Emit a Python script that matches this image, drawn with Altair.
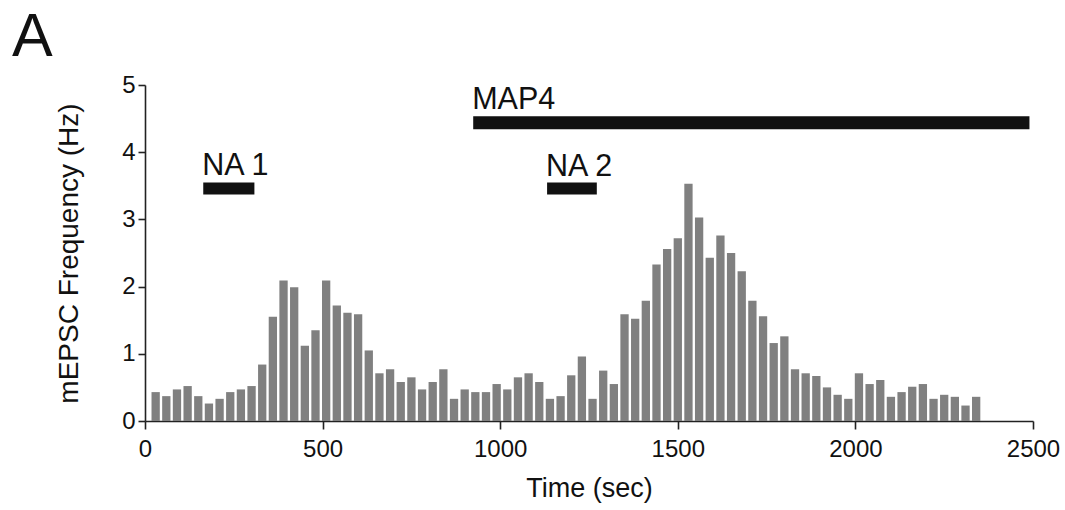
import altair as alt
import pandas as pd

# --- data ---
bin_times = [30 * k for k in range(1, 79)]  # bin centres (sec)
frequency = [
    0.43, 0.37, 0.47, 0.52, 0.37, 0.26, 0.33, 0.43, 0.47, 0.52,
    0.84, 1.55, 2.09, 1.99, 1.12, 1.35, 2.09, 1.72, 1.61, 1.59,
    1.05, 0.71, 0.77, 0.58, 0.65, 0.47, 0.58, 0.77, 0.33, 0.47,
    0.43, 0.43, 0.55, 0.47, 0.65, 0.71, 0.58, 0.33, 0.37, 0.68,
    0.96, 0.33, 0.75, 0.55, 1.59, 1.52, 1.79, 2.33, 2.56, 2.72,
    3.53, 3.03, 2.43, 2.76, 2.50, 2.23, 1.79, 1.56, 1.16, 1.26,
    0.77, 0.71, 0.67, 0.50, 0.39, 0.33, 0.71, 0.55, 0.61, 0.36,
    0.43, 0.51, 0.55, 0.33, 0.39, 0.36, 0.23, 0.36,
]

drug_labels = ["NA 1", "NA 2", "MAP4"]
drug_start = [164, 1132, 924]
drug_end = [308, 1272, 2490]
drug_level = [3.46, 3.46, 4.44]
label_level = [3.66, 3.64, 4.65]

x_ticks = [0, 500, 1000, 1500, 2000, 2500]
y_ticks = [0, 1, 2, 3, 4, 5]

bars_df = pd.DataFrame({"time": bin_times, "freq": frequency})
drug_df = pd.DataFrame({
    "label": drug_labels, "start": drug_start, "end": drug_end,
    "level": drug_level, "label_level": label_level,
})

FONT = "Liberation Sans"

x_scale = alt.Scale(domain=[0, 2500], nice=False, zero=False, padding=0)
y_scale = alt.Scale(domain=[0, 5], nice=False, padding=0)

bars = alt.Chart(bars_df).mark_bar(size=8.3, color="#808080").encode(
    x=alt.X("time:Q", scale=x_scale,
            axis=alt.Axis(values=x_ticks, title="Time (sec)", format="d")),
    y=alt.Y("freq:Q", scale=y_scale,
            axis=alt.Axis(values=y_ticks, title="mEPSC Frequency (Hz)",
                          format="d")),
)

na_rules = alt.Chart(drug_df).transform_filter(
    alt.datum.label != "MAP4"
).mark_rule(strokeWidth=12, color="#111111", strokeCap="butt").encode(
    x="start:Q", x2="end:Q", y="level:Q",
)

map_rule = alt.Chart(drug_df).transform_filter(
    alt.datum.label == "MAP4"
).mark_rule(strokeWidth=13, color="#111111", strokeCap="butt").encode(
    x="start:Q", x2="end:Q", y="level:Q",
)

labels = alt.Chart(drug_df).mark_text(
    align="left", baseline="alphabetic", font=FONT, fontSize=30.5,
    color="#111111", dx=-1,
).encode(
    x="start:Q", y="label_level:Q", text="label:N",
)

chart = alt.layer(bars, na_rules, map_rule, labels).properties(
    width=888,
    height=336,
    title=alt.TitleParams(
        "A", anchor="start", fontSize=61, font=FONT, fontWeight="normal",
        color="#111111", dx=-133, offset=0, dy=44, baseline="alphabetic",
        frame="group",
    ),
    autosize=alt.AutoSizeParams(type="none"),
    padding={"left": 145, "top": 85, "right": 32, "bottom": 89},
).configure_view(stroke=None).configure_axis(
    grid=False,
    domainColor="#222222",
    domainWidth=1.6,
    tickColor="#222222",
    tickWidth=1.6,
    labelFont=FONT,
    labelFontSize=24,
    labelColor="#111111",
    titleFont=FONT,
    titleFontWeight="normal",
    titleColor="#111111",
).configure_axisX(
    tickSize=8, labelPadding=8, titleFontSize=27, titlePadding=14,
    labelFlush=False,
).configure_axisY(
    tickSize=7, labelPadding=3, titleFontSize=28, titlePadding=38,
    labelFlush=False,
)

chart.save("out.html", embed_options={"renderer": "svg", "actions": False})
